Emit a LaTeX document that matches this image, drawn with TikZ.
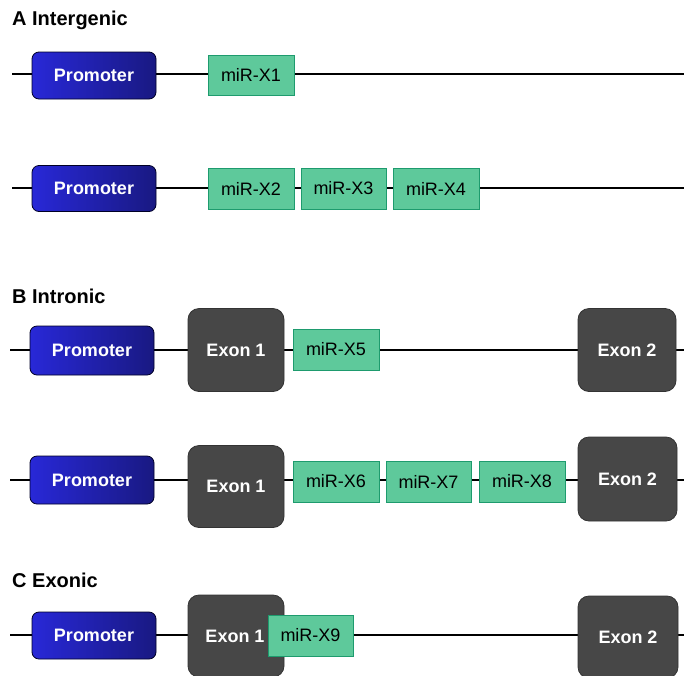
\documentclass[tikz,border=0pt]{standalone}
\usepackage{fontspec}
\setmainfont{Liberation Sans}
\begin{document}
\begin{tikzpicture}[x=1pt,y=-1pt,
  backbone/.style={line width=2pt,black},
  promoter/.style={draw=black!85!blue,line width=0.8pt,rounded corners=7pt,
    left color={rgb,255:red,40;green,40;blue,215},right color={rgb,255:red,25;green,25;blue,130},
    text=white,font=\bfseries\fontsize{18}{20}\selectfont,inner sep=0pt},
  exon/.style={draw=black!80,line width=0.8pt,rounded corners=11pt,fill={rgb,255:red,71;green,71;blue,71},
    text=white,font=\bfseries\fontsize{18}{20}\selectfont,inner sep=0pt},
  mir/.style={draw={rgb,255:red,30;green,155;blue,110},line width=0.8pt,fill={rgb,255:red,94;green,201;blue,155},
    text=black,font=\fontsize{18}{20}\selectfont,inner sep=0pt},
  title/.style={anchor=west,font=\bfseries\fontsize{20}{22}\selectfont,inner sep=0pt}]
\useasboundingbox (0,0) rectangle (684,675);
\fill[white] (0,0) rectangle (684,675);

% ---- A
\node[title] (tA) at (12,20) {A Intergenic};
\coordinate (a1s) at (12,74); \coordinate (a1e) at (684,74);
\draw[backbone] (a1s) -- (a1e);
\node[promoter,minimum width=124pt,minimum height=47pt] (p1) at (94,75.5) {Promoter};
\node[mir,minimum width=86pt,minimum height=40pt] (m1) at (251,75) {miR-X1};

\coordinate (a2s) at (12,188); \coordinate (a2e) at (684,188);
\draw[backbone] (a2s) -- (a2e);
\node[promoter,minimum width=124pt,minimum height=46pt] (p2) at (94,188.5) {Promoter};
\node[mir,minimum width=86pt,minimum height=41pt] (m2) at (251,188.5) {miR-X2};
\node[mir,minimum width=85pt,minimum height=41pt] (m3) at (343.5,188.5) {miR-X3};
\node[mir,minimum width=86pt,minimum height=41pt] (m4) at (436,188.5) {miR-X4};

% ---- B
\node[title] (tB) at (12,296) {B Intronic};
\coordinate (b1s) at (10,350); \coordinate (b1e) at (684,350);
\draw[backbone] (b1s) -- (b1e);
\node[promoter,minimum width=124pt,minimum height=49pt] (p3) at (92,350.5) {Promoter};
\node[exon,minimum width=96pt,minimum height=83pt] (e31) at (236,350) {Exon 1};
\node[mir,minimum width=86pt,minimum height=41pt] (m5) at (336,349.5) {miR-X5};
\node[exon,minimum width=98pt,minimum height=83pt] (e32) at (627,350) {Exon 2};

\coordinate (b2s) at (10,480); \coordinate (b2e) at (684,480);
\draw[backbone] (b2s) -- (b2e);
\node[promoter,minimum width=124pt,minimum height=48pt] (p4) at (92,480) {Promoter};
\node[exon,minimum width=96pt,minimum height=82pt] (e41) at (236,486.5) {Exon 1};
\node[mir,minimum width=86pt,minimum height=41pt] (m6) at (336,481.5) {miR-X6};
\node[mir,minimum width=85pt,minimum height=41pt] (m7) at (428.5,481.5) {miR-X7};
\node[mir,minimum width=86pt,minimum height=41pt] (m8) at (522,481.5) {miR-X8};
\node[exon,minimum width=99pt,minimum height=84pt] (e42) at (627.5,479) {Exon 2};

% ---- C
\node[title] (tC) at (12,580) {C Exonic};
\coordinate (c1s) at (10,635); \coordinate (c1e) at (684,635);
\draw[backbone] (c1s) -- (c1e);
\node[promoter,minimum width=124pt,minimum height=47pt] (p5) at (94,635.5) {Promoter};
\node[exon,minimum width=96pt,minimum height=82pt] (e51) at (236,636) {};
\node[font=\bfseries\fontsize{18}{20}\selectfont,text=white,inner sep=0pt] (e51t) at (235,636) {Exon 1};
\node[mir,minimum width=85pt,minimum height=41pt] (m9) at (310.5,635.5) {miR-X9};
\node[exon,minimum width=100pt,minimum height=82pt] (e52) at (628,637) {Exon 2};
\end{tikzpicture}
\end{document}
